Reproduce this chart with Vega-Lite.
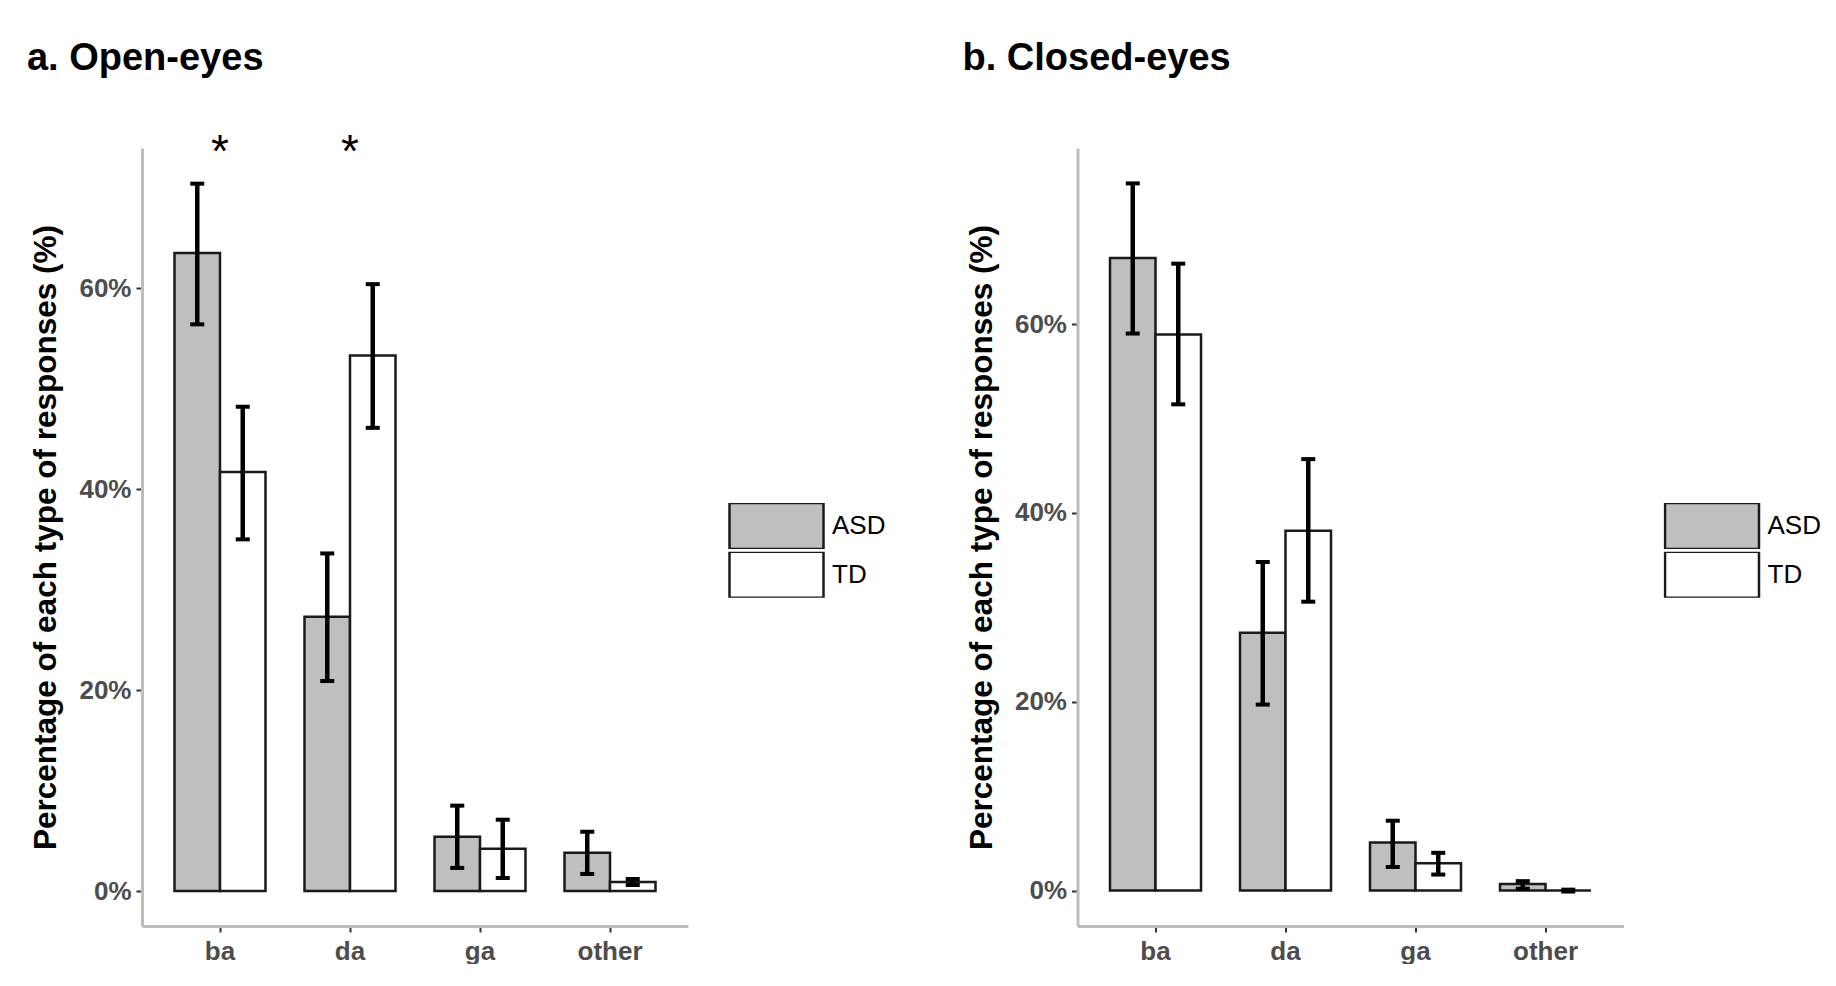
{
  "$schema": "https://vega.github.io/schema/vega-lite/v6.json",
  "background": "white",
  "padding": {"left": 26, "top": 39, "right": 0, "bottom": 0},
  "config": {
    "font": "Liberation Sans",
    "view": {"stroke": null},
    "axis": {"grid": false},
    "axisX": {"title": null, "labelAngle": 0, "labelFontSize": 26, "labelFontWeight": "bold", "labelColor": "#4d4d4d", "tickColor": "#333333", "tickSize": 6, "tickWidth": 2, "domainColor": "#bdbdbd", "domainWidth": 3, "labelPadding": 6},
    "axisY": {"labelFontSize": 26, "labelFontWeight": "bold", "labelColor": "#4d4d4d", "tickColor": "#333333", "tickSize": 6, "tickWidth": 2, "domainColor": "#bdbdbd", "domainWidth": 3, "labelPadding": 5, "titleFontSize": 31.5, "titleFontWeight": "bold", "titleColor": "#000000", "titlePadding": 16},
    "legend": {"orient": "none", "legendX": 586, "legendY": 355, "title": null, "padding": 0, "symbolType": "M-1,-0.489H1V0.489H-1Z", "symbolSize": 8836, "symbolStrokeColor": "#1a1a1a", "symbolStrokeWidth": 2.5, "symbolOpacity": 1, "labelFontSize": 26, "labelColor": "#000000", "clipHeight": 46, "rowPadding": 2.7, "labelOffset": 7},
    "title": {"anchor": "start", "frame": "bounds", "fontSize": 38, "fontWeight": "bold", "color": "#000000", "offset": 52, "dx": -4}
  },
  "datasets": {
    "open": [
      {"cat": "ba", "group": "ASD", "value": 63.5, "lo": 56.4, "hi": 70.4},
      {"cat": "ba", "group": "TD", "value": 41.7, "lo": 35.0, "hi": 48.2},
      {"cat": "da", "group": "ASD", "value": 27.3, "lo": 20.9, "hi": 33.6},
      {"cat": "da", "group": "TD", "value": 53.3, "lo": 46.1, "hi": 60.4},
      {"cat": "ga", "group": "ASD", "value": 5.4, "lo": 2.3, "hi": 8.5},
      {"cat": "ga", "group": "TD", "value": 4.2, "lo": 1.3, "hi": 7.1},
      {"cat": "other", "group": "ASD", "value": 3.8, "lo": 1.7, "hi": 5.9},
      {"cat": "other", "group": "TD", "value": 0.9, "lo": 0.6, "hi": 1.2}
    ],
    "closed": [
      {"cat": "ba", "group": "ASD", "value": 67.0, "lo": 59.0, "hi": 74.9},
      {"cat": "ba", "group": "TD", "value": 58.9, "lo": 51.5, "hi": 66.4},
      {"cat": "da", "group": "ASD", "value": 27.3, "lo": 19.7, "hi": 34.8},
      {"cat": "da", "group": "TD", "value": 38.1, "lo": 30.6, "hi": 45.7},
      {"cat": "ga", "group": "ASD", "value": 5.1, "lo": 2.5, "hi": 7.4},
      {"cat": "ga", "group": "TD", "value": 2.9, "lo": 1.7, "hi": 4.0},
      {"cat": "other", "group": "ASD", "value": 0.7, "lo": 0.2, "hi": 1.0},
      {"cat": "other", "group": "TD", "value": 0.0, "lo": -0.1, "hi": 0.1}
    ],
    "stars": [
      {"cat": "ba", "label": "*", "y": 73.5},
      {"cat": "da", "label": "*", "y": 73.5}
    ]
  },
  "spacing": 75.5,
  "resolve": {"scale": {"fill": "independent", "y": "independent", "x": "independent"}, "legend": {"fill": "independent"}},
  "hconcat": [
    {
      "title": {"text": "a. Open-eyes"},
      "width": 546,
      "height": 778,
      "data": {"name": "open"},
      "encoding": {
        "x": {"field": "cat", "type": "nominal", "sort": ["ba", "da", "ga", "other"], "scale": {"paddingInner": 0.3, "paddingOuter": 0.25}}
      },
      "layer": [
        {
          "mark": {"type": "bar", "stroke": "#1a1a1a", "strokeWidth": 2.5},
          "encoding": {
            "xOffset": {"field": "group", "type": "nominal", "sort": ["ASD", "TD"]},
            "y": {"field": "value", "type": "quantitative", "title": "Percentage of each type of responses (%)", "scale": {"domain": [-3.48, 73.95], "nice": false, "zero": false}, "axis": {"values": [0, 20, 40, 60], "labelExpr": "datum.value + '%'"}},
            "y2": {"datum": 0},
            "fill": {"field": "group", "type": "nominal", "scale": {"domain": ["ASD", "TD"], "range": ["#bfbfbf", "#ffffff"]}}
          }
        },
        {
          "mark": {"type": "rule", "color": "#000000", "strokeWidth": 4.5},
          "encoding": {
            "xOffset": {"field": "group", "type": "nominal", "sort": ["ASD", "TD"]},
            "y": {"field": "lo", "type": "quantitative", "title": "Percentage of each type of responses (%)"},
            "y2": {"field": "hi"}
          }
        },
        {
          "mark": {"type": "tick", "color": "#000000", "size": 14, "thickness": 4, "opacity": 1},
          "encoding": {
            "xOffset": {"field": "group", "type": "nominal", "sort": ["ASD", "TD"]},
            "y": {"field": "lo", "type": "quantitative", "title": "Percentage of each type of responses (%)"}
          }
        },
        {
          "mark": {"type": "tick", "color": "#000000", "size": 14, "thickness": 4, "opacity": 1},
          "encoding": {
            "xOffset": {"field": "group", "type": "nominal", "sort": ["ASD", "TD"]},
            "y": {"field": "hi", "type": "quantitative", "title": "Percentage of each type of responses (%)"}
          }
        },
        {
          "data": {"name": "stars"},
          "mark": {"type": "text", "fontSize": 46, "baseline": "middle", "color": "#000000"},
          "encoding": {
            "text": {"field": "label"},
            "y": {"field": "y", "type": "quantitative", "title": "Percentage of each type of responses (%)"}
          }
        }
      ]
    },
    {
      "title": {"text": "b. Closed-eyes", "dy": -18.5},
      "width": 546,
      "height": 778,
      "data": {"name": "closed"},
      "encoding": {
        "x": {"field": "cat", "type": "nominal", "sort": ["ba", "da", "ga", "other"], "scale": {"paddingInner": 0.3, "paddingOuter": 0.25}}
      },
      "layer": [
        {
          "mark": {"type": "bar", "stroke": "#1a1a1a", "strokeWidth": 2.5},
          "encoding": {
            "xOffset": {"field": "group", "type": "nominal", "sort": ["ASD", "TD"]},
            "y": {"field": "value", "type": "quantitative", "title": "Percentage of each type of responses (%)", "scale": {"domain": [-3.75, 78.65], "nice": false, "zero": false}, "axis": {"values": [0, 20, 40, 60], "labelExpr": "datum.value + '%'"}},
            "y2": {"datum": 0},
            "fill": {"field": "group", "type": "nominal", "scale": {"domain": ["ASD", "TD"], "range": ["#bfbfbf", "#ffffff"]}}
          }
        },
        {
          "mark": {"type": "rule", "color": "#000000", "strokeWidth": 4.5},
          "encoding": {
            "xOffset": {"field": "group", "type": "nominal", "sort": ["ASD", "TD"]},
            "y": {"field": "lo", "type": "quantitative", "title": "Percentage of each type of responses (%)"},
            "y2": {"field": "hi"}
          }
        },
        {
          "mark": {"type": "tick", "color": "#000000", "size": 14, "thickness": 4, "opacity": 1},
          "encoding": {
            "xOffset": {"field": "group", "type": "nominal", "sort": ["ASD", "TD"]},
            "y": {"field": "lo", "type": "quantitative", "title": "Percentage of each type of responses (%)"}
          }
        },
        {
          "mark": {"type": "tick", "color": "#000000", "size": 14, "thickness": 4, "opacity": 1},
          "encoding": {
            "xOffset": {"field": "group", "type": "nominal", "sort": ["ASD", "TD"]},
            "y": {"field": "hi", "type": "quantitative", "title": "Percentage of each type of responses (%)"}
          }
        }
      ]
    }
  ]
}
